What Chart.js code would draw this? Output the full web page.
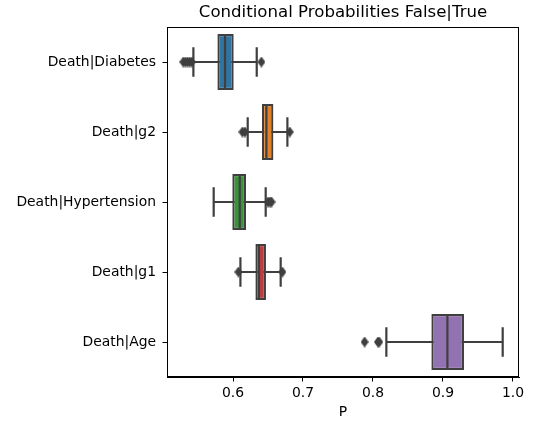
<!DOCTYPE html>
<html>
<head>
<meta charset="utf-8">
<script src="https://cdn.jsdelivr.net/npm/chart.js@4/dist/chart.umd.min.js"></script>
<style>
  html, body { margin: 0; padding: 0; background: #fff; }
  #wrap { width: 546px; height: 432px; }
</style>
</head>
<body>
<div id="wrap"><canvas id="box"></canvas></div>
<script>
"use strict";

// data
var categories = ["Death|Diabetes", "Death|g2", "Death|Hypertension", "Death|g1", "Death|Age"];
var whiskerLow = [0.5434, 0.621, 0.5724, 0.6106, 0.8191];
var q1 = [0.5777, 0.6414, 0.599, 0.632, 0.8834];
var medians = [0.5886, 0.6477, 0.6096, 0.6371, 0.9063];
var q3 = [0.601, 0.6577, 0.6186, 0.6471, 0.930];
var whiskerHigh = [0.6339, 0.6777, 0.6467, 0.6681, 0.9853];
var outliers = [
    [0.529, 0.532, 0.535, 0.538, 0.541, 0.6406],
    [0.6134, 0.617, 0.681],
    [0.650, 0.653, 0.655],
    [0.6077, 0.6706],
    [0.788, 0.807, 0.809]
];
var tickValues = [0.6, 0.7, 0.8, 0.9, 1.0];
var xMin = 0.5057;
var xMax = 1.0086;

var COLORS = ['#3274a1', '#e1812c', '#3a923a', '#c03d3e', '#9372b2'];
var EDGE = '#3f3f3f';
var FONT = "'DejaVu Sans', sans-serif";

var boxData = [];
for (var i = 0; i < categories.length; i++) {
    boxData.push([q1[i], q3[i]]);
}

var outlierData = [];
for (var i = 0; i < outliers.length; i++) {
    for (var j = 0; j < outliers[i].length; j++) {
        outlierData.push({ x: outliers[i][j], y: categories[i] });
    }
}

// seaborn style thin diamond marker
function thinDiamond(w, h) {
    var c = document.createElement('canvas');
    c.width = w;
    c.height = h;
    var g = c.getContext('2d');
    g.fillStyle = EDGE;
    g.beginPath();
    g.moveTo(w / 2, 0);
    g.lineTo(w, h / 2);
    g.lineTo(w / 2, h);
    g.lineTo(0, h / 2);
    g.closePath();
    g.fill();
    return c;
}
var diamond = thinDiamond(8, 11);

// whiskers behind the boxes, medians, frame and title on top
var boxParts = {
    id: 'boxParts',
    beforeDatasetsDraw: function (chart) {
        var ctx = chart.ctx;
        var xs = chart.scales.x;
        var ys = chart.scales.y;
        var step = ys.getPixelForValue(1) - ys.getPixelForValue(0);
        ctx.save();
        ctx.strokeStyle = EDGE;
        ctx.lineWidth = 2.2;
        for (var i = 0; i < categories.length; i++) {
            var y = ys.getPixelForValue(i);
            var capH = step * 0.21;
            var xl = xs.getPixelForValue(whiskerLow[i]);
            var xh = xs.getPixelForValue(whiskerHigh[i]);
            ctx.beginPath();
            ctx.moveTo(xl, y);
            ctx.lineTo(xh, y);
            ctx.moveTo(xl, y - capH);
            ctx.lineTo(xl, y + capH);
            ctx.moveTo(xh, y - capH);
            ctx.lineTo(xh, y + capH);
            ctx.stroke();
        }
        ctx.restore();
    },
    afterDatasetsDraw: function (chart) {
        var ctx = chart.ctx;
        var xs = chart.scales.x;
        var ys = chart.scales.y;
        var half = (ys.getPixelForValue(1) - ys.getPixelForValue(0)) * 0.4;
        ctx.save();
        ctx.strokeStyle = EDGE;
        ctx.lineWidth = 2.2;
        for (var i = 0; i < categories.length; i++) {
            var y = ys.getPixelForValue(i);
            var xm = xs.getPixelForValue(medians[i]);
            ctx.beginPath();
            ctx.moveTo(xm, y - half);
            ctx.lineTo(xm, y + half);
            ctx.stroke();
        }
        var a = chart.chartArea;
        ctx.strokeStyle = '#000';
        ctx.lineWidth = 1;
        ctx.strokeRect(a.left + 0.5, a.top + 0.5, a.right - a.left - 1, a.bottom - a.top - 1);

        ctx.fillStyle = '#000';
        ctx.font = '16.6px ' + FONT;
        ctx.textAlign = 'center';
        ctx.textBaseline = 'middle';
        ctx.fillText('Conditional Probabilities False|True', (a.left + a.right) / 2, 13);
        ctx.restore();
    }
};

var ctx = document.getElementById('box').getContext('2d');
new Chart(ctx, {
    type: 'bar',
    data: {
        labels: categories,
        datasets: [{
            type: 'scatter',
            data: outlierData,
            pointStyle: diamond,
            pointRadius: 5,
            order: 0
        }, {
            data: boxData,
            backgroundColor: COLORS,
            borderColor: EDGE,
            borderWidth: 2.2,
            borderSkipped: false,
            categoryPercentage: 1,
            barPercentage: 0.8,
            order: 1
        }]
    },
    options: {
        indexAxis: 'y',
        responsive: true,
        maintainAspectRatio: false,
        animation: false,
        layout: { padding: { left: 0, right: 27, top: 27, bottom: 11.6 } },
        plugins: {
            legend: { display: false },
            tooltip: { enabled: false },
            title: { display: false }
        },
        scales: {
            x: {
                type: 'linear',
                min: xMin,
                max: xMax,
                afterBuildTicks: function (scale) {
                    scale.ticks = tickValues.map(function (v) { return { value: v }; });
                },
                afterFit: function (scale) { scale.height = 43.4; },
                ticks: {
                    color: '#000',
                    font: { family: FONT, size: 13.9 },
                    padding: 3.5,
                    maxRotation: 0,
                    callback: function (v) { return Number(v).toFixed(1); }
                },
                grid: { display: true, drawOnChartArea: false, drawTicks: true, tickLength: 4.5, color: '#000' },
                border: { display: true, color: '#000', width: 1 },
                title: {
                    display: true,
                    text: 'P',
                    color: '#000',
                    font: { family: FONT, size: 13.9 },
                    padding: { top: 2, bottom: 0 }
                }
            },
            y: {
                type: 'category',
                offset: true,
                afterFit: function (scale) { scale.width = 167; },
                ticks: {
                    color: '#000',
                    font: { family: FONT, size: 13.9 },
                    padding: 6.5
                },
                grid: { display: true, offset: false, drawOnChartArea: false, drawTicks: true, tickLength: 4.5, color: '#000' },
                border: { display: true, color: '#000', width: 1 }
            }
        }
    },
    plugins: [boxParts]
});
</script>
</body>
</html>
